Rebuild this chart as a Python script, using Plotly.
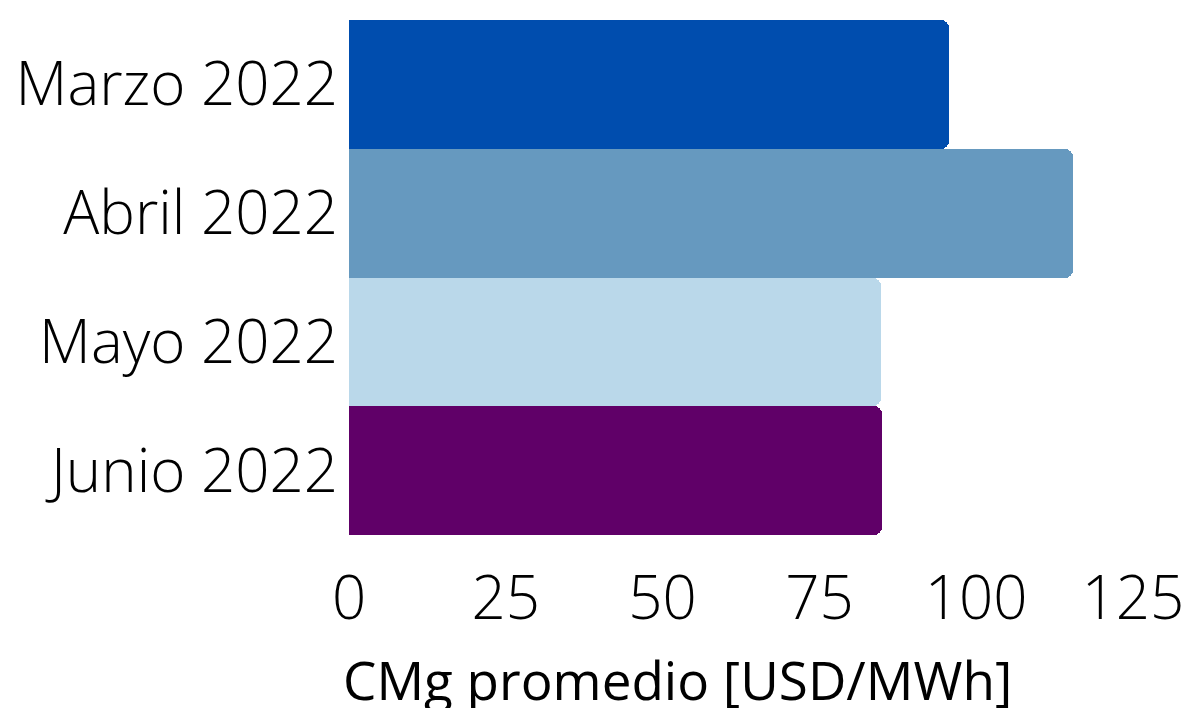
import plotly.graph_objects as go

categories = ["Marzo 2022", "Abril 2022", "Mayo 2022", "Junio 2022"]
values = [95.7, 115.4, 84.8, 85.0]
colors = ["#004DAE", "#6699BF", "#BAD8EA", "#600068"]
tick_vals = [0, 25, 50, 75, 100, 125]
x_title = "CMg promedio [USD/MWh]"

font_family = "Open Sans"

fig = go.Figure(
    go.Bar(
        x=values,
        y=categories,
        orientation="h",
        marker=dict(color=colors, line=dict(width=0)),
    )
)

fig.update_layout(
    width=1190,
    height=708,
    margin=dict(l=341, r=65, t=12, b=181, autoexpand=False),
    paper_bgcolor="white",
    plot_bgcolor="white",
    bargap=0,
    barcornerradius=8,
    showlegend=False,
    font=dict(family=font_family, size=60, color="black", weight=300),
)

fig.update_xaxes(
    range=[0, 125],
    tickvals=tick_vals,
    ticktext=[str(v) for v in tick_vals],
    showgrid=False,
    zeroline=False,
    showline=False,
    ticks="",
    automargin=False,
    ticklabelstandoff=23,
    tickfont=dict(family=font_family, size=60, color="black", weight=300),
)

fig.update_yaxes(
    categoryorder="array",
    categoryarray=categories,
    autorange="reversed",
    showgrid=False,
    zeroline=False,
    showline=False,
    ticks="",
    automargin=False,
    ticklabelstandoff=10,
    tickfont=dict(family=font_family, size=60, color="black", weight=300),
)

fig.add_annotation(
    text=x_title,
    xref="paper", yref="paper",
    x=(669 - 341) / 784, y=-(633 - 527) / 515,
    xanchor="center", yanchor="top",
    showarrow=False,
    font=dict(family=font_family, size=53, color="black", weight=400),
)

fig.write_html("out.html")
